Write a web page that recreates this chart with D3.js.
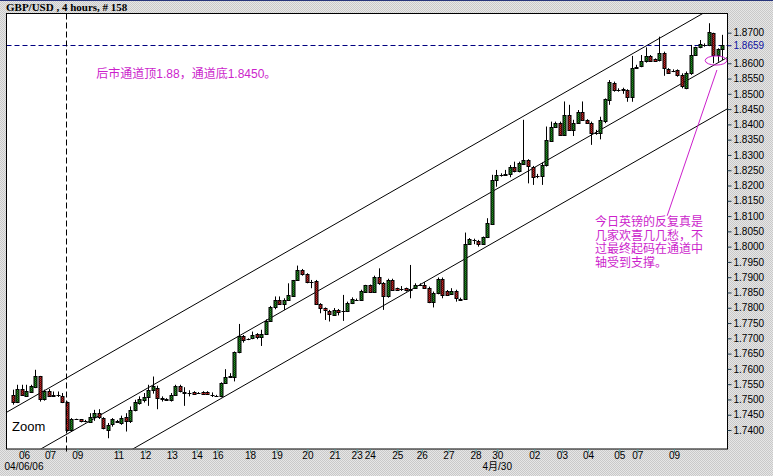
<!DOCTYPE html>
<html><head><meta charset="utf-8">
<script src="https://cdn.jsdelivr.net/npm/d3@7/dist/d3.min.js"></script>
<style>
html,body{margin:0;padding:0;background:#dcdcdc;}
svg{display:block;}
</style></head>
<body>
<svg id="chart" width="773" height="476"></svg>
<script>
// ---------------- DATA ----------------
const title = "GBP/USD , 4 hours, # 158";
const opens = [1.7515,1.7493,1.7534,1.7512,1.7524,1.7540,1.7577,1.7501,1.7526,1.7515,1.7515,1.7510,1.7490,1.7401,1.7436,1.7436,1.7430,1.7425,1.7442,1.7457,
1.7439,1.7399,1.7420,1.7430,1.7423,1.7442,1.7428,1.7466,1.7488,1.7497,1.7508,1.7532,1.7537,1.7506,1.7499,1.7497,1.7515,1.7545,1.7522,1.7522,
1.7525,1.7521,1.7525,1.7525,1.7516,1.7512,1.7510,1.7553,1.7575,1.7573,1.7654,1.7708,1.7697,1.7700,1.7714,1.7704,1.7715,1.7758,1.7802,1.7826,
1.7813,1.7826,1.7840,1.7891,1.7924,1.7910,1.7884,1.7888,1.7812,1.7799,1.7790,1.7777,1.7793,1.7790,1.7788,1.7815,1.7826,1.7826,1.7853,1.7873,
1.7853,1.7899,1.7880,1.7837,1.7891,1.7864,1.7862,1.7864,1.7863,1.7866,1.7875,1.7875,1.7866,1.7820,1.7848,1.7895,1.7855,1.7844,1.7855,1.7828,
1.7830,1.8009,1.8022,1.8020,1.8009,1.8031,1.8074,1.8218,1.8235,1.8238,1.8238,1.8262,1.8246,1.8271,1.8284,1.8260,1.8231,1.8231,1.8267,1.8347,
1.8393,1.8406,1.8366,1.8431,1.8382,1.8404,1.8442,1.8415,1.8406,1.8373,1.8371,1.8411,1.8480,1.8537,1.8513,1.8516,1.8513,1.8491,1.8586,1.8591,
1.8606,1.8624,1.8613,1.8611,1.8635,1.8580,1.8576,1.8578,1.8562,1.8518,1.8567,1.8627,1.8652,1.8661,1.8660,1.8698,1.8627,1.8646];
const highs = [1.7532,1.7548,1.7548,1.7548,1.7548,1.7597,1.7577,1.7532,1.7534,1.7526,1.7526,1.7521,1.7493,1.7439,1.7437,1.7436,1.7433,1.7455,1.7466,1.7468,
1.7442,1.7423,1.7439,1.7433,1.7447,1.7455,1.7477,1.7499,1.7510,1.7521,1.7548,1.7575,1.7545,1.7510,1.7504,1.7521,1.7548,1.7548,1.7540,1.7530,
1.7527,1.7524,1.7527,1.7527,1.7523,1.7515,1.7556,1.7599,1.7586,1.7657,1.7747,1.7711,1.7700,1.7722,1.7717,1.7728,1.7762,1.7806,1.7837,1.7837,
1.7831,1.7880,1.7891,1.7938,1.7927,1.7913,1.7891,1.7891,1.7815,1.7801,1.7793,1.7799,1.7796,1.7842,1.7820,1.7834,1.7830,1.7859,1.7875,1.7876,
1.7905,1.7929,1.7884,1.7895,1.7895,1.7866,1.7871,1.7866,1.7940,1.7880,1.7880,1.7884,1.7869,1.7853,1.7899,1.7899,1.7858,1.7864,1.7859,1.7833,
1.8046,1.8028,1.8026,1.8022,1.8033,1.8093,1.8235,1.8251,1.8240,1.8251,1.8267,1.8278,1.8278,1.8415,1.8286,1.8264,1.8238,1.8275,1.8393,1.8409,
1.8409,1.8409,1.8475,1.8464,1.8415,1.8447,1.8475,1.8417,1.8409,1.8382,1.8425,1.8485,1.8545,1.8540,1.8518,1.8520,1.8515,1.8624,1.8595,1.8627,
1.8652,1.8627,1.8616,1.8687,1.8638,1.8584,1.8580,1.8580,1.8567,1.8573,1.8660,1.8654,1.8676,1.8665,1.8731,1.8700,1.8649,1.8693];
const lows = [1.7483,1.7488,1.7512,1.7512,1.7521,1.7537,1.7493,1.7496,1.7508,1.7508,1.7508,1.7488,1.7395,1.7399,1.7433,1.7425,1.7425,1.7423,1.7430,1.7436,
1.7402,1.7373,1.7411,1.7423,1.7417,1.7395,1.7423,1.7461,1.7483,1.7490,1.7479,1.7519,1.7468,1.7493,1.7497,1.7493,1.7512,1.7523,1.7479,1.7510,
1.7515,1.7518,1.7515,1.7515,1.7508,1.7508,1.7507,1.7551,1.7570,1.7559,1.7651,1.7686,1.7694,1.7697,1.7697,1.7675,1.7711,1.7755,1.7795,1.7809,
1.7793,1.7824,1.7837,1.7888,1.7905,1.7880,1.7864,1.7810,1.7782,1.7760,1.7755,1.7775,1.7775,1.7757,1.7786,1.7812,1.7822,1.7823,1.7851,1.7850,
1.7850,1.7875,1.7793,1.7833,1.7855,1.7855,1.7855,1.7853,1.7831,1.7862,1.7871,1.7862,1.7815,1.7801,1.7844,1.7831,1.7839,1.7842,1.7820,1.7824,
1.7826,1.8006,1.8008,1.8000,1.8006,1.8028,1.8071,1.8196,1.8229,1.8233,1.8227,1.8243,1.8243,1.8267,1.8207,1.8202,1.8224,1.8202,1.8262,1.8344,
1.8391,1.8362,1.8362,1.8380,1.8362,1.8402,1.8412,1.8402,1.8333,1.8366,1.8351,1.8404,1.8464,1.8507,1.8507,1.8500,1.8474,1.8474,1.8582,1.8587,
1.8602,1.8606,1.8606,1.8606,1.8559,1.8567,1.8571,1.8556,1.8518,1.8515,1.8562,1.8624,1.8649,1.8654,1.8656,1.8600,1.8605,1.8611];
const closes = [1.7493,1.7534,1.7515,1.7526,1.7543,1.7577,1.7501,1.7526,1.7512,1.7514,1.7515,1.7490,1.7401,1.7436,1.7436,1.7428,1.7430,1.7442,1.7457,1.7442,
1.7406,1.7417,1.7436,1.7428,1.7439,1.7428,1.7466,1.7490,1.7501,1.7508,1.7532,1.7543,1.7504,1.7502,1.7502,1.7515,1.7545,1.7526,1.7523,1.7522,
1.7518,1.7521,1.7518,1.7518,1.7516,1.7512,1.7553,1.7575,1.7577,1.7654,1.7708,1.7693,1.7697,1.7711,1.7703,1.7714,1.7758,1.7802,1.7826,1.7813,
1.7826,1.7842,1.7891,1.7924,1.7910,1.7884,1.7884,1.7812,1.7799,1.7793,1.7779,1.7793,1.7785,1.7790,1.7815,1.7828,1.7826,1.7855,1.7873,1.7853,
1.7899,1.7880,1.7837,1.7891,1.7858,1.7858,1.7862,1.7858,1.7862,1.7875,1.7875,1.7866,1.7820,1.7848,1.7895,1.7842,1.7842,1.7855,1.7831,1.7830,
1.8009,1.8024,1.8022,1.8009,1.8031,1.8077,1.8218,1.8235,1.8235,1.8236,1.8262,1.8246,1.8273,1.8284,1.8264,1.8229,1.8231,1.8267,1.8349,1.8393,
1.8406,1.8366,1.8431,1.8382,1.8404,1.8442,1.8415,1.8406,1.8373,1.8373,1.8414,1.8482,1.8540,1.8513,1.8513,1.8511,1.8491,1.8584,1.8589,1.8609,
1.8624,1.8609,1.8609,1.8635,1.8584,1.8569,1.8576,1.8562,1.8524,1.8567,1.8627,1.8652,1.8663,1.8661,1.8703,1.8627,1.8646,1.8659];

const priceTicks = [1.740,1.745,1.750,1.755,1.760,1.765,1.770,1.775,1.780,1.785,1.790,1.795,1.800,1.805,1.810,1.815,1.820,1.825,1.830,1.835,1.840,1.845,1.850,1.855,1.860,1.870];
const currentPrice = 1.8659;
const xTickBars = [2.5,8.25,14.3,23.4,29.3,35.2,40.7,45.3,52.5,58.4,65.2,71.2,76.1,79.0,85.1,90.5,96.4,102.4,107.2,115.4,121.5,127.3,134.2,138.2,146.3];
const xTickLabels = ["06","07","09","11","12","13","14","16","18","19","20","21","23","24","25","26","27","28","30","02","03","04","05","07","09"];
const dateBars = [2.5,107.2];
const dateLabels = ["04/06/06","4月/30"];
// channel lines: [bar, price] endpoints
const channelTop = [[-3,1.7444],[160,1.8825]];
const channelMid = [[6,1.7336],[160,1.8635]];
const channelBot = [[26,1.7333],[160,1.8467]];
const crossBar = 12;
const note1 = "后市通道顶1.88，通道底1.8450。";
const note2 = ["今日英镑的反复真是","几家欢喜几几愁，不","过最终起码在通道中","轴受到支撑。"];
const note1Pos = [18.5,1.8552];
const note2Pos = [128.8,1.8066];
const ellipseBars = [153.2,158.0];
const ellipsePrices = [1.8594,1.8624];
const arrowLine = [[144.8,1.8101],[155.8,1.8578]];

// ---------------- CHART ----------------
const W = 773, H = 476;
const plot = {l:6.5, t:13.5, r:727.5, b:449};
const svg = d3.select("#chart");
const defs = svg.append("defs");

function checker(id, a, b){
  const p = defs.append("pattern").attr("id",id).attr("patternUnits","userSpaceOnUse").attr("width",2).attr("height",2);
  p.append("rect").attr("width",2).attr("height",2).attr("fill",a);
  p.append("rect").attr("width",1).attr("height",1).attr("fill",b);
  p.append("rect").attr("x",1).attr("y",1).attr("width",1).attr("height",1).attr("fill",b);
}
checker("bg","#e6e6e6","#c9c9c9");
checker("gfill","#1f9a1f","#0b3f0b");
checker("rfill","#d42222","#5a0f0f");

svg.append("rect").attr("width",W).attr("height",H).attr("fill","url(#bg)");
svg.append("rect").attr("width",W).attr("height",1).attr("fill","#26337a");

svg.append("rect").attr("x",plot.l).attr("y",plot.t).attr("width",plot.r-plot.l).attr("height",plot.b-plot.t)
  .attr("fill","#ffffff");

defs.append("clipPath").attr("id","clip").append("rect")
  .attr("x",plot.l+0.5).attr("y",plot.t+0.5).attr("width",plot.r-plot.l-1).attr("height",plot.b-plot.t-1);

const x = d3.scaleLinear().domain([0,157]).range([12.7, 12.7+4.52*157]);
const y = d3.scaleLinear().domain([1.74,1.87]).range([430,32.7]);

const g = svg.append("g").attr("clip-path","url(#clip)");

// channel lines
const line = d3.line().x(d=>x(d[0])).y(d=>y(d[1]));
[channelTop,channelMid,channelBot].forEach(c=>{
  g.append("path").attr("d",line(c)).attr("fill","none").attr("stroke","#000").attr("stroke-width",1);
});

// current price dashed line
g.append("line").attr("x1",plot.l).attr("x2",plot.r).attr("y1",Math.round(y(currentPrice))+0.5).attr("y2",Math.round(y(currentPrice))+0.5)
  .attr("stroke","#000080").attr("stroke-dasharray","5,3");

// candles
const data = opens.map((o,i)=>({i,o,h:highs[i],l:lows[i],c:closes[i]}));
const cg = g.append("g");
data.forEach(d=>{
  const cx = Math.round(x(d.i))+0.5;
  cg.append("line").attr("x1",cx).attr("x2",cx).attr("y1",y(d.h)).attr("y2",y(d.l)).attr("stroke","#000").attr("stroke-width",1);
  const y1 = y(Math.max(d.o,d.c)), y2 = y(Math.min(d.o,d.c));
  if (Math.abs(d.o-d.c) < 0.00005) {
    cg.append("line").attr("x1",cx-2).attr("x2",cx+2).attr("y1",Math.round(y1)+0.5).attr("y2",Math.round(y1)+0.5).attr("stroke","#000");
  } else {
    cg.append("rect").attr("x",cx-1.5).attr("y",Math.round(y1)+0.5).attr("width",3)
      .attr("height",Math.max(1,Math.round(y2)-Math.round(y1)))
      .attr("fill", d.c>d.o ? "url(#gfill)" : "url(#rfill)").attr("stroke","#000").attr("stroke-width",1);
  }
});

// vertical crosshair dashed
svg.append("line").attr("x1",Math.round(x(crossBar))-0.5).attr("x2",Math.round(x(crossBar))-0.5)
  .attr("y1",plot.t).attr("y2",plot.b+4).attr("stroke","#000").attr("stroke-dasharray","6,3");

// plot border
svg.append("rect").attr("x",plot.l).attr("y",plot.t).attr("width",plot.r-plot.l).attr("height",plot.b-plot.t)
  .attr("fill","none").attr("stroke","#000").attr("stroke-width",1);

// annotations
const mag = "#cc1fcc";
g.append("ellipse").attr("cx",(x(ellipseBars[0])+x(ellipseBars[1]))/2).attr("cy",(y(ellipsePrices[0])+y(ellipsePrices[1]))/2)
  .attr("rx",(x(ellipseBars[1])-x(ellipseBars[0]))/2).attr("ry",(y(ellipsePrices[0])-y(ellipsePrices[1]))/2)
  .attr("fill","none").attr("stroke",mag).attr("stroke-width",1);
g.append("path").attr("d",line(arrowLine)).attr("stroke",mag).attr("fill","none").attr("stroke-width",1);

const cjk = "'Liberation Sans','Noto Sans CJK SC','Noto Sans CJK JP',sans-serif";
svg.append("text").attr("x",x(note1Pos[0])).attr("y",y(note1Pos[1])).attr("fill",mag)
  .style("font-family",cjk).style("font-size","12px").text(note1);
note2.forEach((s,k)=>{
  svg.append("text").attr("x",x(note2Pos[0])).attr("y",y(note2Pos[1])+k*13.5).attr("fill",mag)
    .style("font-family",cjk).style("font-size","12px").text(s);
});

svg.append("text").attr("x",plot.l+5.5).attr("y",plot.b-18.5).style("font-family","'Liberation Sans',Arial,sans-serif")
  .style("font-size","13px").attr("fill","#000").text("Zoom");

// title
svg.append("text").attr("x",6).attr("y",11).style("font-family","'Liberation Serif',serif").style("font-weight","bold")
  .style("font-size","11px").attr("fill","#000").text(title);

// right axis
const ax = svg.append("g").attr("transform",`translate(${plot.r},0)`)
  .call(d3.axisRight(y).tickValues(priceTicks).tickFormat(d3.format(".4f")).tickSize(4).tickPadding(2));
ax.select(".domain").remove();
ax.selectAll(".tick line").attr("stroke","#1d3a4a");
ax.selectAll(".tick text").style("font-family","'Liberation Sans',Arial,sans-serif").style("font-size","10px").attr("fill","#000");

const cur = svg.append("g").attr("transform",`translate(${plot.r},0)`)
  .call(d3.axisRight(y).tickValues([currentPrice]).tickFormat(d3.format(".4f")).tickSize(4).tickPadding(2));
cur.select(".domain").remove();
cur.selectAll(".tick line").attr("stroke","#000080");
cur.selectAll(".tick text").style("font-family","'Liberation Sans',Arial,sans-serif").style("font-size","10px").attr("fill","#1010a0");

// bottom axis
const bx = svg.append("g").attr("transform",`translate(0,${plot.b})`)
  .call(d3.axisBottom(x).tickValues(xTickBars).tickFormat((d,i)=>xTickLabels[i]).tickSize(4).tickPadding(-1.5));
bx.select(".domain").remove();
bx.selectAll(".tick line").attr("stroke","#4a9a9a");
bx.selectAll(".tick text").style("font-family","'Liberation Sans',Arial,sans-serif").style("font-size","10px").attr("fill","#000");

dateLabels.forEach((s,k)=>{
  svg.append("text").attr("x",x(dateBars[k])).attr("y",plot.b+21).attr("text-anchor","middle")
    .style("font-family","'Liberation Sans','Noto Sans CJK SC',Arial,sans-serif").style("font-size","10px").attr("fill","#000").text(s);
});
</script>
</body></html>
